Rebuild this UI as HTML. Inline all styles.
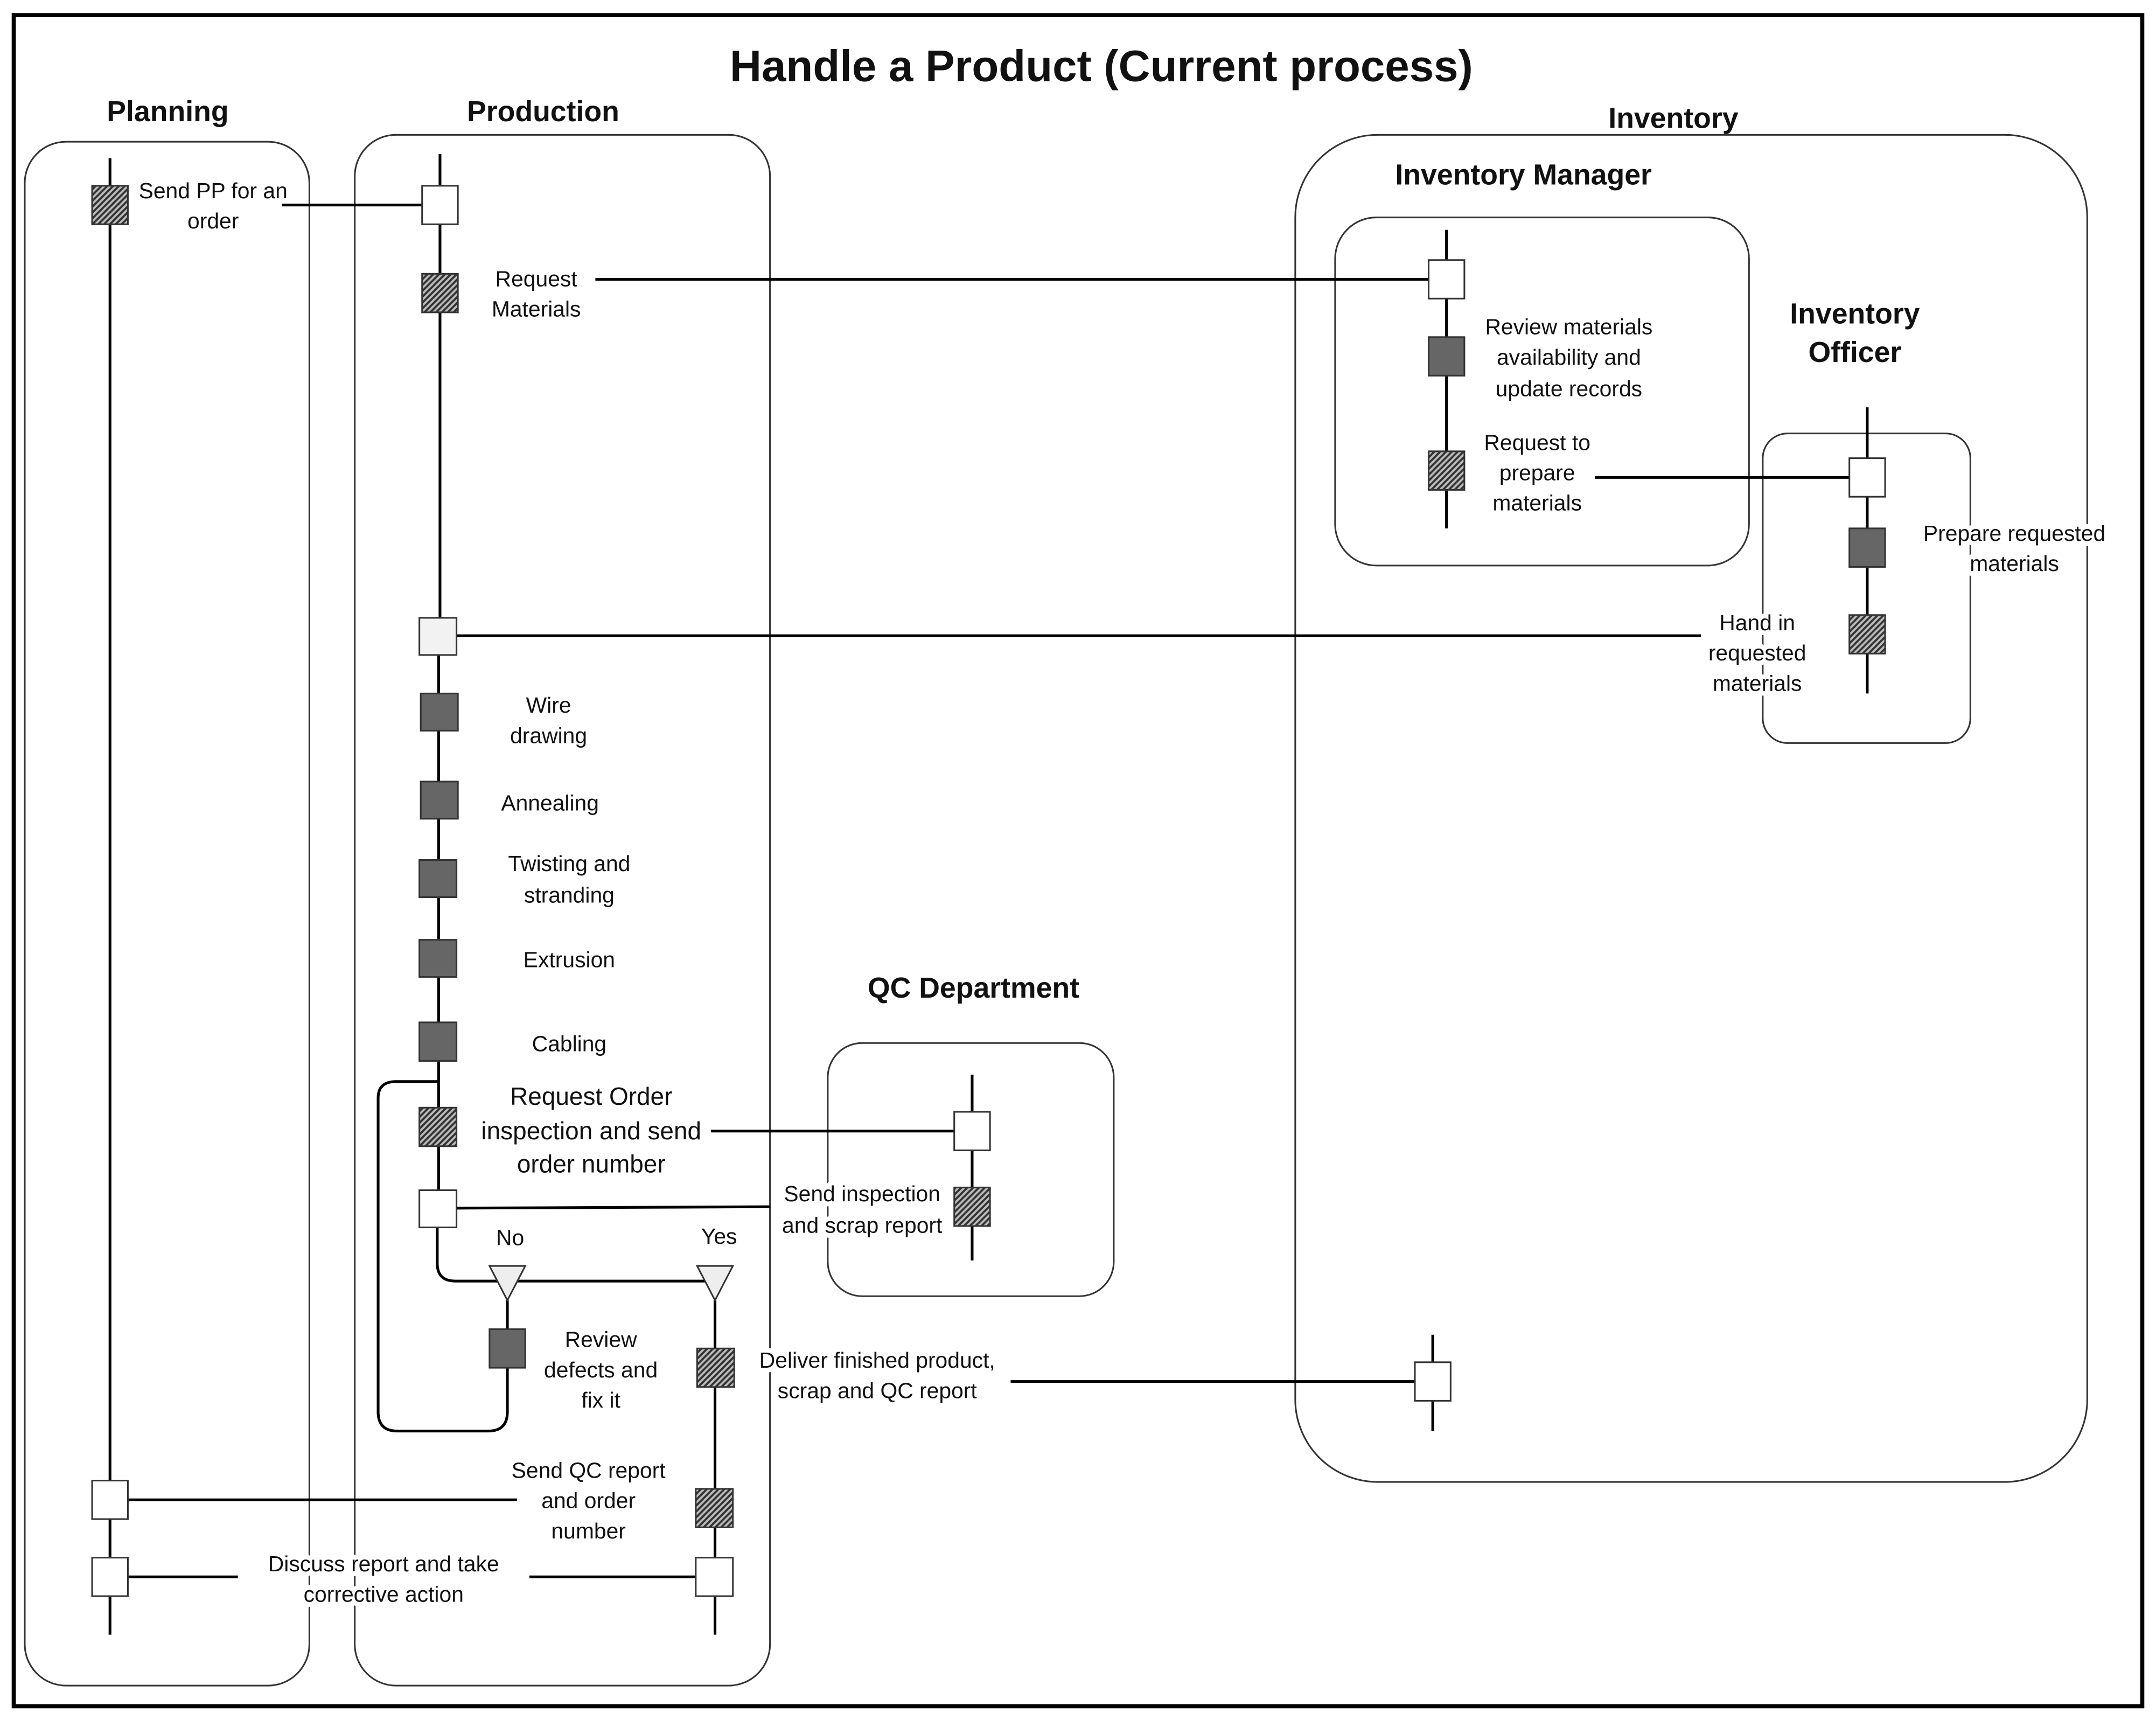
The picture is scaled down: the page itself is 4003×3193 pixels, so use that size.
<!DOCTYPE html>
<html><head><meta charset="utf-8"><style>
html,body{margin:0;padding:0;background:#fff}
svg{display:block}
text{font-family:"Liberation Sans",sans-serif;fill:#111}
.t{font-size:16px;text-anchor:middle;paint-order:stroke;stroke:#fff;stroke-width:7px;stroke-linejoin:round}
.h{font-size:21px;font-weight:bold;text-anchor:middle}
.lane{fill:none;stroke:#333;stroke-width:1.2}
.ll{stroke:#000;stroke-width:2}
.c{stroke:#000;stroke-width:2;fill:none}
.w{fill:#fff;stroke:#333;stroke-width:1.2}
.d{fill:#666;stroke:#333;stroke-width:1.2}
.x{fill:url(#hat);stroke:#333;stroke-width:1.2}
</style></head><body>
<svg width="4003" height="3193" viewBox="0 0 1568 1250" preserveAspectRatio="none" xmlns="http://www.w3.org/2000/svg">
<defs>
<pattern id="hat" width="3" height="3" patternUnits="userSpaceOnUse" patternTransform="rotate(45)">
<rect width="3" height="3" fill="#bbb"/><rect width="1.5" height="3" fill="#333"/>
</pattern>
</defs>
<rect x="0" y="0" width="1568" height="1250" fill="#fff"/>
<rect x="10" y="11" width="1548" height="1229" fill="none" stroke="#000" stroke-width="3"/>
<text x="801" y="59" style="font-size:32px;font-weight:bold;text-anchor:middle">Handle a Product (Current process)</text>

<text class="h" x="122" y="88">Planning</text>
<rect class="lane" x="18" y="103" width="207" height="1122" rx="30"/>
<text class="h" x="395" y="88">Production</text>
<rect class="lane" x="258" y="98" width="302" height="1127" rx="30"/>
<text class="h" x="1217" y="93">Inventory</text>
<rect class="lane" x="942" y="98" width="576" height="979" rx="60"/>
<text class="h" x="1108" y="134">Inventory Manager</text>
<rect class="lane" x="971" y="158" width="301" height="253" rx="30"/>
<text class="h" x="1349" y="235">Inventory</text>
<text class="h" x="1349" y="263">Officer</text>
<rect class="lane" x="1282" y="315" width="151" height="225" rx="18"/>
<text class="h" x="708" y="725">QC Department</text>
<rect class="lane" x="602" y="758" width="208" height="184" rx="25"/>

<line class="ll" x1="80" y1="115" x2="80" y2="1188"/>
<line class="ll" x1="320" y1="112" x2="320" y2="462"/>
<line class="ll" x1="319" y1="462" x2="319" y2="865"/>
<line class="ll" x1="1052" y1="167" x2="1052" y2="384"/>
<line class="ll" x1="1358" y1="296" x2="1358" y2="504"/>
<line class="ll" x1="707" y1="781" x2="707" y2="916"/>
<line class="ll" x1="1042" y1="970" x2="1042" y2="1040"/>
<line class="ll" x1="520" y1="945" x2="520" y2="1188"/>
<line class="ll" x1="369" y1="945" x2="369" y2="966"/>

<line class="c" x1="205" y1="149" x2="307" y2="149"/>
<line class="c" x1="433" y1="203" x2="1039" y2="203"/>
<line class="c" x1="1160" y1="347" x2="1345" y2="347"/>
<line class="c" x1="332" y1="462" x2="1237" y2="462"/>
<line class="c" x1="517" y1="822" x2="694" y2="822"/>
<line class="c" x1="332" y1="878" x2="560" y2="877"/>
<line class="c" x1="735" y1="1004" x2="1029" y2="1004"/>
<line class="c" x1="93" y1="1090" x2="376" y2="1090"/>
<line class="c" x1="93" y1="1146" x2="173" y2="1146"/>
<line class="c" x1="385" y1="1146" x2="507" y2="1146"/>
<path class="c" d="M318 892 L318 918 Q318 931 331 931 L520 931" stroke-width="1.6"/>
<path class="c" d="M369 993 L369 1026 Q369 1040 355 1040 L289 1040 Q275 1040 275 1026 L275 798 Q275 786 288 786 L320 786" stroke-width="1.3"/>
<polygon points="356,920 382,920 369,945" fill="#eee" stroke="#333" stroke-width="1.2"/>
<polygon points="507,920 533,920 520,945" fill="#eee" stroke="#333" stroke-width="1.2"/>

<rect class="x" x="67" y="135" width="26" height="28"/>
<rect class="w" x="307" y="135" width="26" height="28"/>
<rect class="x" x="307" y="199" width="26" height="28"/>
<rect class="w" x="1039" y="189" width="26" height="28"/>
<rect class="d" x="1039" y="245" width="26" height="28"/>
<rect class="x" x="1039" y="328" width="26" height="28"/>
<rect class="w" x="1345" y="333" width="26" height="28"/>
<rect class="d" x="1345" y="384" width="26" height="28"/>
<rect class="x" x="1345" y="447" width="26" height="28"/>
<rect x="305" y="449" width="27" height="27" fill="#f2f2f2" stroke="#333" stroke-width="1.2"/>
<rect class="d" x="306" y="504" width="27" height="27"/>
<rect class="d" x="306" y="568" width="27" height="27"/>
<rect class="d" x="305" y="625" width="27" height="27"/>
<rect class="d" x="305" y="683" width="27" height="27"/>
<rect class="d" x="305" y="743" width="27" height="28"/>
<rect class="x" x="305" y="805" width="27" height="28"/>
<rect class="w" x="694" y="808" width="26" height="28"/>
<rect class="x" x="694" y="863" width="26" height="28"/>
<rect class="w" x="305" y="865" width="27" height="27"/>
<rect class="d" x="356" y="966" width="26" height="28"/>
<rect class="x" x="507" y="980" width="27" height="28"/>
<rect class="w" x="1029" y="990" width="26" height="28"/>
<rect class="x" x="506" y="1082" width="27" height="28"/>
<rect class="w" x="67" y="1076" width="26" height="28"/>
<rect class="w" x="506" y="1132" width="27" height="28"/>
<rect class="w" x="67" y="1132" width="26" height="28"/>

<text class="t" x="155" y="144">Send PP for an</text><text class="t" x="155" y="166">order</text>
<text class="t" x="390" y="208">Request</text><text class="t" x="390" y="230">Materials</text>
<text class="t" x="1141" y="243">Review materials</text><text class="t" x="1141" y="265">availability and</text><text class="t" x="1141" y="288">update records</text>
<text class="t" x="1118" y="327">Request to</text><text class="t" x="1118" y="349">prepare</text><text class="t" x="1118" y="371">materials</text>
<text class="t" x="1465" y="393">Prepare requested</text><text class="t" x="1465" y="415">materials</text>
<text class="t" x="1278" y="458">Hand in</text><text class="t" x="1278" y="480">requested</text><text class="t" x="1278" y="502">materials</text>
<text class="t" x="399" y="518">Wire</text><text class="t" x="399" y="540">drawing</text>
<text class="t" x="400" y="589">Annealing</text>
<text class="t" x="414" y="633">Twisting and</text><text class="t" x="414" y="656">stranding</text>
<text class="t" x="414" y="703">Extrusion</text>
<text class="t" x="414" y="764">Cabling</text>
<text class="t" x="430" y="803" style="font-size:18px">Request Order</text>
<text class="t" x="430" y="828" style="font-size:18px">inspection and send</text>
<text class="t" x="430" y="852" style="font-size:18px">order number</text>
<text class="t" x="627" y="873">Send inspection</text><text class="t" x="627" y="896">and scrap report</text>
<text class="t" x="371" y="905" style="stroke-width:0">No</text>
<text class="t" x="523" y="904" style="stroke-width:0">Yes</text>
<text class="t" x="437" y="979">Review</text><text class="t" x="437" y="1001">defects and</text><text class="t" x="437" y="1023">fix it</text>
<text class="t" x="638" y="994">Deliver finished product,</text><text class="t" x="638" y="1016">scrap and QC report</text>
<text class="t" x="428" y="1074">Send QC report</text><text class="t" x="428" y="1096">and order</text><text class="t" x="428" y="1118">number</text>
<text class="t" x="279" y="1142">Discuss report and take</text><text class="t" x="279" y="1164">corrective action</text>
</svg>
</body></html>
